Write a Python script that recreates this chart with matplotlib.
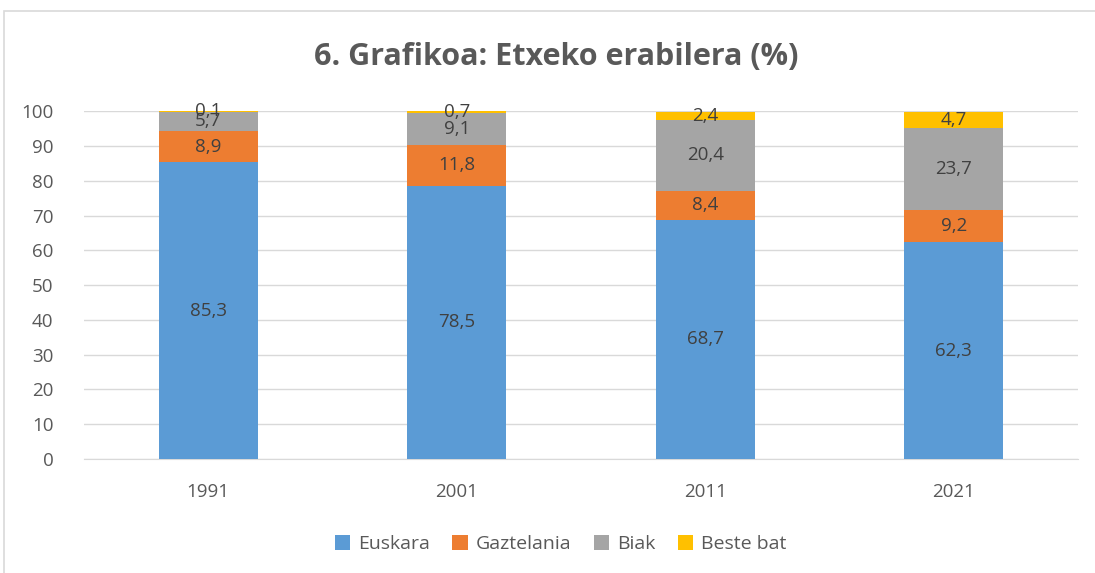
import matplotlib.pyplot as plt
from matplotlib.patches import Rectangle
import numpy as np

years = ["1991", "2001", "2011", "2021"]
series = ["Euskara", "Gaztelania", "Biak", "Beste bat"]
euskara = [85.3, 78.5, 68.7, 62.3]
gaztelania = [8.9, 11.8, 8.4, 9.2]
biak = [5.7, 9.1, 20.4, 23.7]
beste = [0.1, 0.7, 2.4, 4.7]
colors = ["#5B9BD5", "#ED7D31", "#A5A5A5", "#FFC000"]

plt.rcParams['font.family'] = ['Open Sans', 'DejaVu Sans']
txt = "#595959"

fig = plt.figure(figsize=(10.95, 5.73), dpi=100)
fig.patches.append(Rectangle((0.004, -0.01), 1.0, 0.99, transform=fig.transFigure,
                             fill=False, edgecolor="#D9D9D9", linewidth=1.2))
ax = fig.add_axes([0.0767, 0.199, 0.9078, 0.607])

x = np.arange(len(years))
bottom = np.zeros(len(years))
for name, vals, c in zip(series, [euskara, gaztelania, biak, beste], colors):
    bars = ax.bar(x, vals, width=0.4, bottom=bottom, color=c, label=name, zorder=3)
    for b, v, y0 in zip(bars, vals, bottom):
        ax.text(b.get_x() + b.get_width() / 2, y0 + v / 2, f"{v:.1f}".replace(".", ","),
                ha="center", va="center", fontsize=13.5, color="#404040", zorder=4)
    bottom += np.array(vals)

ax.set_xlim(-0.5, len(years) - 0.5)
ax.set_ylim(0, 100)
ax.set_yticks(range(0, 101, 10))
ax.set_xticks(x)
ax.set_xticklabels(years)
ax.yaxis.grid(True, color="#D9D9D9", linewidth=1, zorder=0)
for s in ax.spines.values():
    s.set_visible(False)
ax.spines["bottom"].set_visible(True)
ax.spines["bottom"].set_color("#D9D9D9")
ax.tick_params(axis="both", length=0, labelsize=13.5, colors=txt)
ax.tick_params(axis="y", pad=22)
ax.tick_params(axis="x", pad=17)

fig.text(0.508, 0.9, "6. Grafikoa: Etxeko erabilera (%)", ha="center", va="center",
         fontsize=22, fontweight="bold", color=txt)
fig.legend(loc="center", bbox_to_anchor=(0.512, 0.05), ncol=4, frameon=False,
           fontsize=14, labelcolor=txt, handlelength=0.8, handleheight=0.8,
           handletextpad=0.4, columnspacing=1.15)

plt.savefig("out.png", dpi=100)
